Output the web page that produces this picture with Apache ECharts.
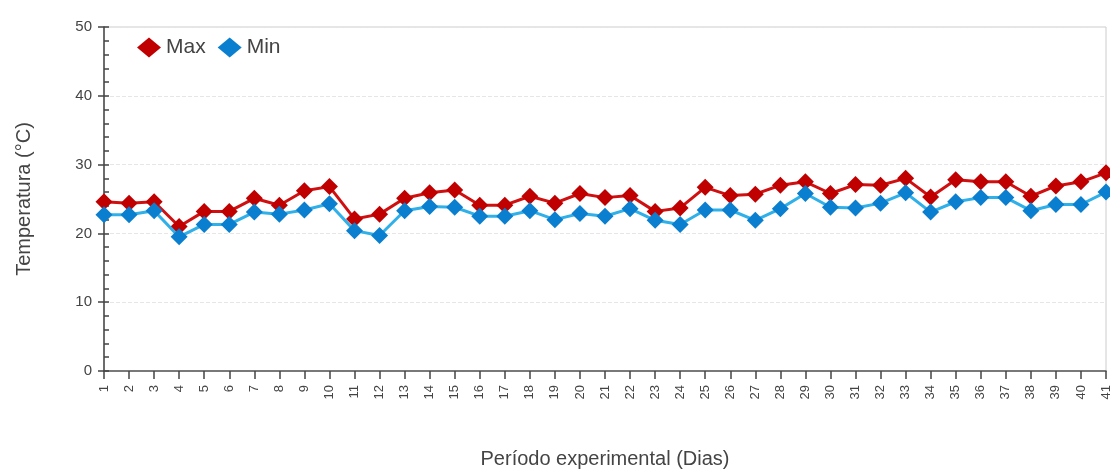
<!DOCTYPE html>
<html>
<head>
<meta charset="utf-8">
<script src="https://cdn.jsdelivr.net/npm/echarts@6/dist/echarts.min.js"></script>
<style>html,body{margin:0;padding:0;background:#fff}#c{width:1110px;height:471px}</style>
</head>
<body>
<div id="c"></div>
<script>
const days = ['1','2','3','4','5','6','7','8','9','10','11','12','13','14','15','16','17','18','19','20','21','22','23','24','25','26','27','28','29','30','31','32','33','34','35','36','37','38','39','40','41'];
const maxTemp = [24.6,24.4,24.6,21.0,23.2,23.2,25.1,24.1,26.2,26.8,22.1,22.8,25.1,25.9,26.3,24.1,24.1,25.4,24.4,25.8,25.2,25.5,23.2,23.7,26.7,25.5,25.7,27.0,27.5,25.8,27.1,27.0,28.0,25.3,27.8,27.5,27.5,25.4,26.9,27.5,28.8];
const minTemp = [22.7,22.7,23.3,19.5,21.3,21.3,23.1,22.8,23.4,24.3,20.4,19.7,23.3,23.9,23.8,22.5,22.5,23.3,22.0,22.9,22.5,23.6,21.9,21.3,23.4,23.4,21.9,23.6,25.8,23.8,23.7,24.4,25.9,23.1,24.6,25.2,25.2,23.3,24.2,24.2,26.0];
const seriesNames = ['Max','Min'];
const yTicks = {min:0, max:50, interval:10};

const chart = echarts.init(document.getElementById('c'), null, {renderer:'canvas'});
const font = 'Liberation Sans, Arial, sans-serif';
chart.setOption({
  animation:false,
  textStyle:{fontFamily:font},
  legend:{
    left:132, top:32, itemGap:12, itemWidth:24, itemHeight:20,
    textStyle:{fontSize:21, color:'#444', fontFamily:font},
    data:[{name:seriesNames[0], icon:'diamond'},{name:seriesNames[1], icon:'diamond'}]
  },
  grid:{left:104, right:4, top:27, bottom:100, show:true, borderColor:'#ccc', borderWidth:1, containLabel:false, outerBoundsMode:'none'},
  xAxis:{
    type:'category', data:days, boundaryGap:false,
    name:'Período experimental (Dias)', nameLocation:'middle', nameGap:78,
    nameTextStyle:{fontSize:20, color:'#444', fontFamily:font},
    axisLine:{lineStyle:{color:'#555', width:1.5}},
    axisTick:{show:true, length:8, alignWithLabel:true, lineStyle:{color:'#444', width:1.5}, interval:0},
    axisLabel:{rotate:90, interval:0, fontSize:13, color:'#444', margin:14, fontFamily:font},
    splitLine:{show:false}
  },
  yAxis:[{
    type:'value', min:yTicks.min, max:yTicks.max, interval:yTicks.interval,
    name:'Temperatura (°C)', nameLocation:'middle', nameGap:70,
    nameTextStyle:{fontSize:20, color:'#444', fontFamily:font},
    axisLine:{show:true, lineStyle:{color:'#444', width:1.5}},
    axisTick:{show:true, length:6, lineStyle:{color:'#444', width:1.5}},
    axisLabel:{fontSize:15, color:'#444', margin:12, fontFamily:font},
    splitLine:{show:true, lineStyle:{color:'#e6e6e6', type:'dashed', width:1}}
  },{
    type:'value', min:0, max:50, interval:2, position:'left',
    axisLine:{show:false},
    axisTick:{show:true, inside:true, length:5, lineStyle:{color:'#444', width:1.5}},
    axisLabel:{show:false}, splitLine:{show:false}
  }],
  series:[{
    name:seriesNames[0], type:'line', data:maxTemp, yAxisIndex:0,
    symbol:'diamond', symbolSize:17,
    lineStyle:{color:'#d01010', width:3},
    itemStyle:{color:'#c00000'},
    z:2
  },{
    name:seriesNames[1], type:'line', data:minTemp, yAxisIndex:0,
    symbol:'diamond', symbolSize:17,
    lineStyle:{color:'#2fb0e8', width:3},
    itemStyle:{color:'#0a7fcf'},
    z:3
  }]
});
</script>
</body>
</html>
